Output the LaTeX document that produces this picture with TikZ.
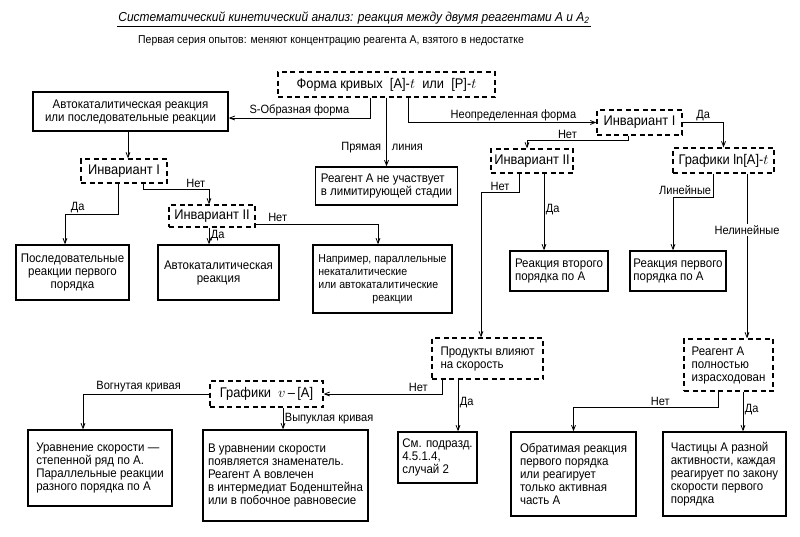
\documentclass[tikz,border=0pt]{standalone}
\usepackage{fontspec}
\setmainfont{Liberation Sans}[FakeStretch=0.92]
\usetikzlibrary{arrows.meta}

\begin{document}
\begin{tikzpicture}[
    x=1pt, y=-1pt,
    every node/.style={font=\fontsize{12.5}{13}\selectfont},
    box/.style={draw, line width=1.5pt, inner sep=2pt},
    ask/.style={draw, line width=1.3pt, dash pattern=on 5pt off 3.5pt, inner sep=2pt},
    big/.style={font=\fontsize{14}{15}\selectfont},
    sz/.style 2 args={minimum width=#1pt, minimum height=#2pt},
    lbl/.style={font=\fontsize{12}{13}\selectfont, inner sep=1.5pt},
    arr/.style={line width=0.8pt, -{Straight Barb[length=5pt, width=4pt]}},
]
  \useasboundingbox (0,0) rectangle (800,536);

  \node [font=\fontsize{13}{14}\selectfont\itshape, inner sep=1pt] (title) at (354,18)
        {Систематический кинетический анализ: реакция между двумя реагентами А и А\textsubscript{2}};
  \draw [line width=0.6pt] ([yshift=-1pt]title.south west) -- ([yshift=-1pt]title.south east);
  \node [font=\fontsize{11.4}{12}\selectfont] (sub) at (331,41)
        {Первая серия опытов: меняют концентрацию реагента А, взятого в недостатке};

  \node [ask, big, sz={217}{25}]          (forma)  at (386.5,84.5) {Форма\ кривых\ \ [А]-$t$\ \ или\ \ [Р]-$t$};
  \node [box, sz={195}{39}, align=center] (auto)   at (130.5,111.5) {Автокаталитическая реакция\\или последовательные реакции};
  \node [box, sz={142}{38}, align=left]   (notlim) at (386.5,186)  {Реагент А не участвует\\в лимитирующей стадии};
  \node [ask, big, sz={85}{25}]           (inv1r)  at (639.5,122.5) {Инвариант I};
  \node [ask, big, sz={82}{24}]           (inv2r)  at (532,161)    {Инвариант II};
  \node [ask, big, sz={101}{25}]          (lnplot) at (723.5,160.5) {Графики ln[А]-$t$};
  \node [box, sz={98}{40}, align=left]    (second) at (559,271)    {Реакция второго\\порядка по А};
  \node [box, sz={96}{40}, align=left]    (first)  at (678,271)    {Реакция первого\\порядка по А};
  \node [ask, sz={111}{41}, align=left]   (prod)   at (487.5,358.5) {Продукты влияют\\на скорость};
  \node [ask, sz={89}{52}, align=left]    (spent)  at (728.5,365)  {Реагент А\\полностью\\израсходован};
  \node [box, sz={125}{84}, align=left]   (revers) at (573.5,474)  {Обратимая реакция\\первого порядка\\или реагирует\\только активная\\часть А};
  \node [box, sz={123}{84}, align=left]   (parts)  at (724.5,474)  {Частицы А разной\\активности, каждая\\реагирует по закону\\скорости первого\\порядка};
  \node [box, sz={79}{51}, align=left]    (see)    at (437.5,457.5) {См. подразд.\\4.5.1.4,\\случай 2};
  \node [ask, big, sz={113}{26}]          (vplot)  at (266.5,394)  {Графики\ \ $v$\,--\,[А]};
  \node [box, sz={144}{76}, align=left]   (power)  at (100,468)    {Уравнение скорости —\\степенной ряд по А.\\Параллельные реакции\\разного порядка по А};
  \node [box, sz={165}{91}, align=left]   (denom)  at (285.5,475.5) {В уравнении скорости\\появляется знаменатель.\\Реагент А вовлечен\\в интермедиат Боденштейна\\или в побочное равновесие};
  \node [ask, big, sz={86}{24}]           (inv1l)  at (124,171)    {Инвариант I};
  \node [box, sz={113}{55}, align=center] (consec) at (72.5,272.5) {Последовательные\\реакции первого\\порядка};
  \node [ask, big, sz={86}{22}]           (inv2l)  at (212,216)    {Инвариант II};
  \node [box, sz={121}{55}, align=center] (autocat) at (218.5,272.5) {Автокаталитическая\\реакция};
  \node [box, sz={139}{68}, align=left, font=\fontsize{11.5}{13}\selectfont]
                                          (parall) at (382.5,279)  {Например, параллельные\\некаталитические\\или автокаталитические\\\hspace*{54pt}реакции};

  \draw [arr] ([xshift=-16.5pt]forma.south) |- node [lbl, above, pos=0.75] {S-Образная форма} ([yshift=-6.5pt]auto.east);
  \draw [arr] (forma.south) -- node [lbl, left, pos=0.73, inner xsep=5pt] {Прямая} node [lbl, right, pos=0.73, inner xsep=5pt] {линия} (notlim.north);
  \draw [arr] ([xshift=21.5pt]forma.south) |- node [lbl, above, pos=0.78] {Неопределенная форма} (inv1r.west);
  \draw [arr] (inv1r.east) -| node [lbl, above, pos=0.25] {Да} (lnplot.north);
  \draw [arr] ([xshift=-11.5pt]inv1r.south) -- ++(0,5) -| node [lbl, above, pos=0.3] {Нет} ([xshift=-5pt]inv2r.north);
  \draw [arr] ([xshift=-10.5pt]lnplot.south) -- node [lbl, left, pos=0.7] {Линейные} ++(0,24) -| ([xshift=-5pt]first.north);
  \draw [arr] ([xshift=23.5pt]lnplot.south) -- node [lbl, fill=white, pos=0.34] {Нелинейные} ([xshift=18.5pt]spent.north);
  \draw [arr] ([xshift=-13pt]inv2r.south) -- ++(0,19) -| node [lbl, above, pos=0.25] {Нет} ([xshift=-6.5pt]prod.north);
  \draw [arr] ([xshift=12pt]inv2r.south) -- node [lbl, right, pos=0.47] {Да} ([xshift=-15pt]second.north);
  \draw [arr] ([xshift=-10.5pt]spent.south) -- ++(0,16) -| node [lbl, above, pos=0.2] {Нет} (revers.north);
  \draw [arr] ([xshift=14.5pt]spent.south) -- node [lbl, right, pos=0.45] {Да} ([xshift=18.5pt]parts.north);
  \draw [arr] ([xshift=-29.5pt]prod.south) -- node [lbl, right, pos=0.45] {Да} ([xshift=20.5pt]see.north);
  \draw [arr] ([xshift=-45.5pt]prod.south) |- node [lbl, above, pos=0.6] {Нет} (vplot.east);
  \draw [arr] (vplot.west) -| node [lbl, above, pos=0.28] {Вогнутая кривая} ([xshift=-17pt]power.north);
  \draw [arr] ([xshift=16.5pt]vplot.south) -- node [lbl, right, pos=0.5] {Выпуклая кривая} ([xshift=-2.5pt]denom.north);
  \draw [arr] ([xshift=-2.5pt]auto.south) -- ([xshift=4pt]inv1l.north);
  \draw [arr] ([xshift=-6pt]inv1l.south) -- ++(0,31) -| node [lbl, above, pos=0.38] {Да} ([xshift=-7.5pt]consec.north);
  \draw [arr] ([xshift=19pt]inv1l.south) -- ++(0,6) -| node [lbl, above, pos=0.4] {Нет} ([xshift=-3pt]inv2l.north);
  \draw [arr] ([xshift=-3pt]inv2l.south) -- node [lbl, right, pos=0.5] {Да} ([xshift=-9.5pt]autocat.north);
  \draw [arr] ([yshift=-8pt]inv2l.east) -| node [lbl, above, pos=0.09] {Нет} ([xshift=-4.5pt]parall.north);
\end{tikzpicture}
\end{document}
